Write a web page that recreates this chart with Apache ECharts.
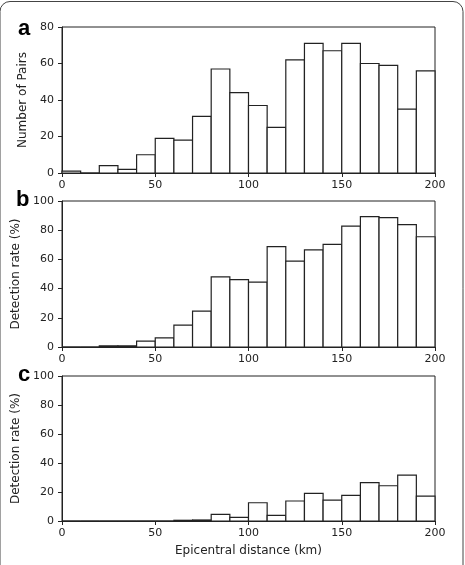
<!DOCTYPE html>
<html><head><meta charset="utf-8">
<script src="https://cdn.jsdelivr.net/npm/echarts@6/dist/echarts.min.js"></script>
<style>html,body{margin:0;padding:0;background:#fff}#c{width:465px;height:565px}</style>
</head><body><div id="c"></div>
<script>
const binEdges = [0,10,20,30,40,50,60,70,80,90,100,110,120,130,140,150,160,170,180,190,200];
const pairsCount = [1,0,4,2,10,19,18,31,57,44,37,25,62,71,67,71,60,59,35,56];
const rateB = [0,0,0.8,0.8,4,6.2,15,24.6,48,46.2,44.5,68.8,58.8,66.5,70.3,82.8,89.3,88.6,83.8,75.5];
const rateC = [0,0,0,0,0,0,0.5,0.7,4.6,2.5,12.6,3.9,13.8,19,14.4,17.7,26.4,24.3,31.7,17.2];
const xTicks = [0,50,100,150,200];
const panelLetters = ['a','b','c'];
const yTitles = ['Number of Pairs','Detection rate (%)','Detection rate (%)'];
const xTitle = 'Epicentral distance (km)';

const font = '"DejaVu Sans", sans-serif';
const grids = [
  {left:62, right:30, top:27, height:146},
  {left:62, right:30, top:201, height:146},
  {left:62, right:30, top:376, height:145}
];
const yMax = [80,100,100];
const yInt = [20,20,20];
const datasets = [pairsCount, rateB, rateC];

function toData(vals){ return vals.map((v,i)=>[binEdges[i], binEdges[i+1], v]); }

const option = {
  animation:false,
  backgroundColor:'#fff',
  grid: grids.map(g=>Object.assign({show:true, borderColor:'#222', borderWidth:1, backgroundColor:'transparent'}, g)),
  xAxis: grids.map((g,i)=>({
    type:'value', gridIndex:i, min:xTicks[0], max:xTicks[xTicks.length-1], interval:xTicks[1]-xTicks[0],
    axisLine:{show:true, onZero:false, lineStyle:{color:'#222', width:1}},
    axisTick:{show:true, inside:false, length:4, lineStyle:{color:'#222'}},
    splitLine:{show:false},
    axisLabel:{color:'#222', fontFamily:font, fontSize:11, margin:7},
    name: i===2 ? xTitle : '', nameLocation:'middle', nameGap:24,
    nameTextStyle:{color:'#222', fontFamily:font, fontSize:12}
  })),
  yAxis: grids.map((g,i)=>({
    type:'value', gridIndex:i, min:0, max:yMax[i], interval:yInt[i],
    axisLine:{show:true, onZero:false, lineStyle:{color:'#222', width:1}},
    axisTick:{show:true, inside:false, length:4, lineStyle:{color:'#222'}},
    splitLine:{show:false},
    axisLabel:{color:'#222', fontFamily:font, fontSize:11, margin:8},
    name: yTitles[i], nameLocation:'middle', nameGap:30, nameRotate:90,
    nameTextStyle:{color:'#222', fontFamily:font, fontSize:12}
  })),
  series: datasets.map((vals,i)=>({
    type:'custom', xAxisIndex:i, yAxisIndex:i,
    data: toData(vals),
    encode:{x:[0,1], y:2},
    renderItem:function(params, api){
      const p0 = api.coord([api.value(0), api.value(2)]);
      const p1 = api.coord([api.value(1), 0]);
      return {type:'rect', shape:{x:p0[0], y:p0[1], width:p1[0]-p0[0], height:p1[1]-p0[1]},
        style:{fill:'#fff', stroke:'#222', lineWidth:1.2}};
    }
  })),
  graphic: [
    {type:'rect', shape:{x:0, y:1.5, width:463, height:620, r:10}, style:{fill:null, stroke:'#444', lineWidth:1}, silent:true, z:-10},
    {type:'text', left:18, top:18, style:{text:panelLetters[0], font:'bold 22px "Liberation Sans", Arial, sans-serif', fill:'#000'}},
    {type:'text', left:16, top:189, style:{text:panelLetters[1], font:'bold 22px "Liberation Sans", Arial, sans-serif', fill:'#000'}},
    {type:'text', left:18, top:364, style:{text:panelLetters[2], font:'bold 22px "Liberation Sans", Arial, sans-serif', fill:'#000'}}
  ]
};
echarts.init(document.getElementById('c'), null, {renderer:'canvas'}).setOption(option);
</script></body></html>
